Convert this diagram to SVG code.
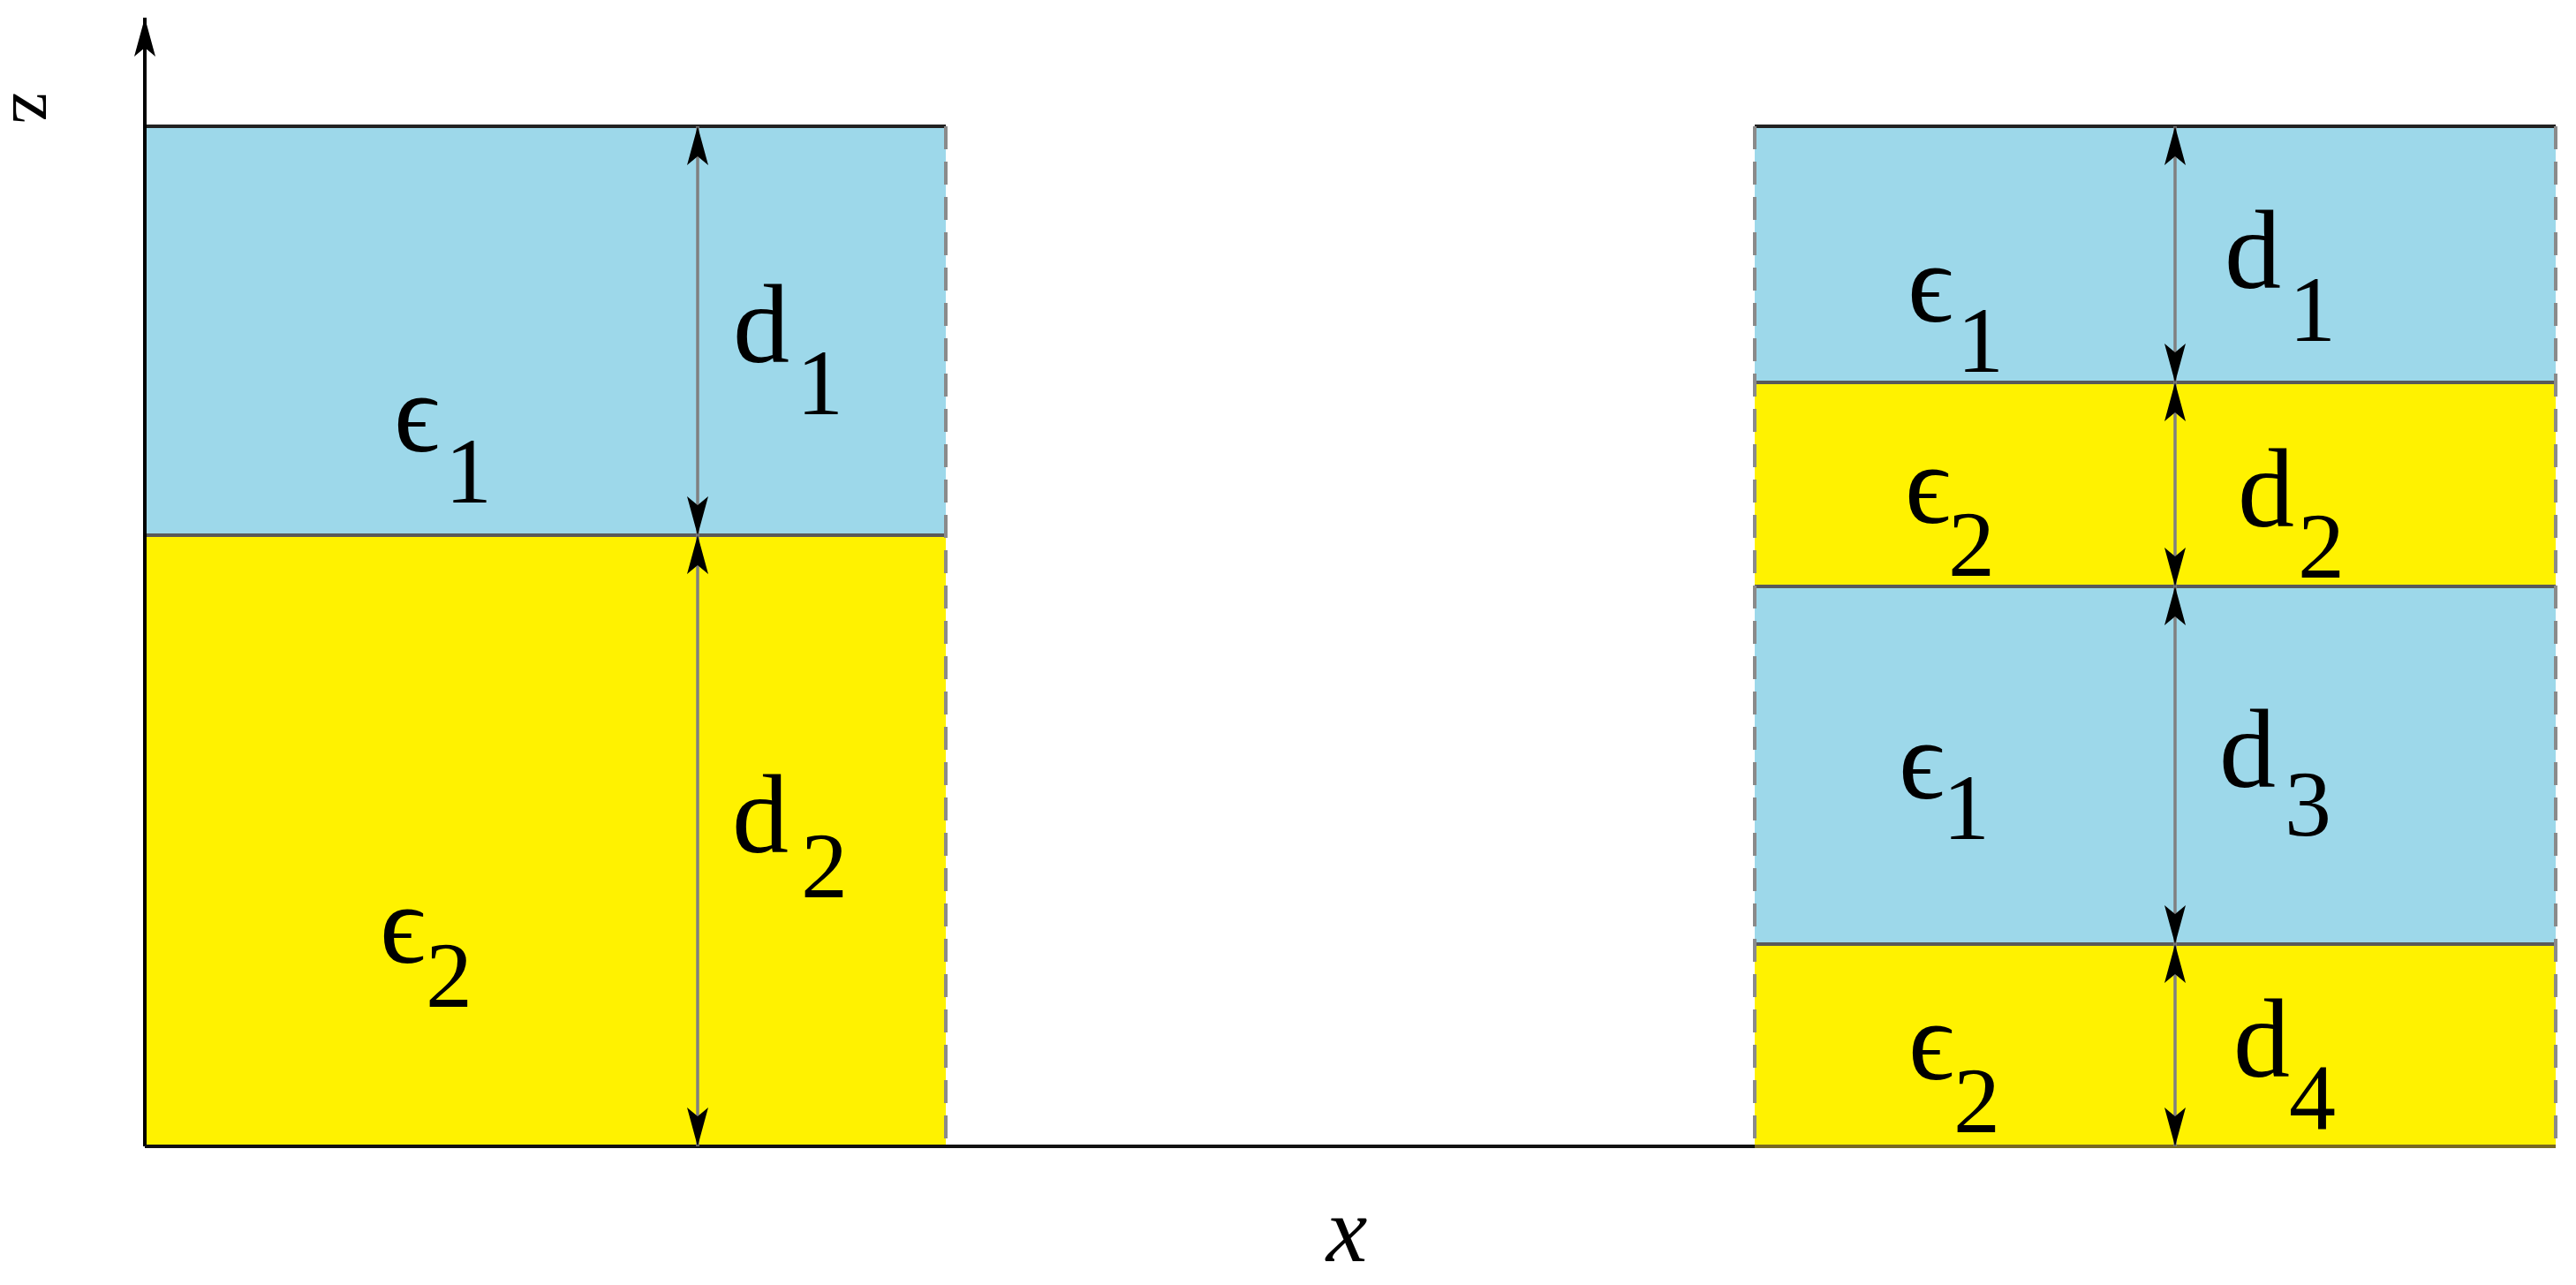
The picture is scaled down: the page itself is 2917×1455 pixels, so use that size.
<svg xmlns="http://www.w3.org/2000/svg" width="2917" height="1455" viewBox="0 0 2917 1455">
<style>
.b{fill:#9dd8ea}.y{fill:#fff200}
.if{stroke:#5a5a5a;stroke-width:4}
.ds{stroke:#8a8a8a;stroke-width:4;stroke-dasharray:26 14}
.dim{stroke:#808080;stroke-width:3.5}
text{font-family:"Liberation Serif","DejaVu Serif",serif;fill:#000}
.m{font-size:128px}.s{font-size:106px}
</style>
<defs>
<marker id="ah" viewBox="0 0 44 24" refX="44" refY="12" markerWidth="44" markerHeight="24" markerUnits="userSpaceOnUse" orient="auto-start-reverse">
<path d="M0,0 L44,12 L0,24 L10,12 Z" fill="#000"/>
</marker>
</defs>
<g id="left-stack">
<rect class="b" x="164" y="143" width="907" height="463"/>
<rect class="y" x="164" y="606" width="907" height="692"/>
<line x1="164" y1="143" x2="1071" y2="143" stroke="#222" stroke-width="4"/>
<line class="if" x1="164" y1="606" x2="1071" y2="606"/>
<line class="ds" x1="1071" y1="143" x2="1071" y2="1298"/>
<text class="m" x="446" y="511">ϵ</text><text class="s" x="504" y="569">1</text>
<text class="m" x="830" y="410">d</text><text class="s" x="902" y="469">1</text>
<text class="m" x="430" y="1090">ϵ</text><text class="s" x="482" y="1140">2</text>
<text class="m" x="829" y="965">d</text><text class="s" x="907" y="1016">2</text>
</g>
<g id="right-stack">
<rect class="b" x="1987" y="143" width="907" height="290"/>
<rect class="y" x="1987" y="433" width="907" height="231"/>
<rect class="b" x="1987" y="664" width="907" height="405"/>
<rect class="y" x="1987" y="1069" width="907" height="229"/>
<line x1="1987" y1="143" x2="2894" y2="143" stroke="#222" stroke-width="4"/>
<line class="if" x1="1987" y1="433" x2="2894" y2="433"/>
<line class="if" x1="1987" y1="664" x2="2894" y2="664"/>
<line class="if" x1="1987" y1="1069" x2="2894" y2="1069"/>
<line x1="1987" y1="1298" x2="2894" y2="1298" stroke="#7a6a20" stroke-width="4"/>
<line class="ds" x1="1987" y1="143" x2="1987" y2="1298"/>
<line class="ds" x1="2894" y1="143" x2="2894" y2="1298"/>
<text class="m" x="2160" y="364">ϵ</text><text class="s" x="2216" y="421">1</text>
<text class="m" x="2519" y="326">d</text><text class="s" x="2592" y="386">1</text>
<text class="m" x="2157" y="592">ϵ</text><text class="s" x="2206" y="652">2</text>
<text class="m" x="2534" y="596">d</text><text class="s" x="2602" y="654">2</text>
<text class="m" x="2150" y="904">ϵ</text><text class="s" x="2200" y="950">1</text>
<text class="m" x="2513" y="891">d</text><text class="s" x="2587" y="946">3</text>
<text class="m" x="2161" y="1222">ϵ</text><text class="s" x="2212" y="1282">2</text>
<text class="m" x="2529" y="1219">d</text><text class="s" x="2592" y="1278">4</text>
</g>
<g id="axes">
<line x1="164" y1="1298" x2="164" y2="20" stroke="#000" stroke-width="4" marker-end="url(#ah)"/>
<line x1="164" y1="1298" x2="1987" y2="1298" stroke="#111" stroke-width="4"/>
<text x="42" y="122" font-size="80" text-anchor="middle" dominant-baseline="central" transform="rotate(90 42 122)">z</text>
<text x="1525" y="1428" font-size="105" font-style="italic" text-anchor="middle">x</text>
</g>
<g id="connectors">
<line class="dim" x1="790" y1="143" x2="790" y2="606" marker-start="url(#ah)" marker-end="url(#ah)"/>
<line class="dim" x1="790" y1="606" x2="790" y2="1298" marker-start="url(#ah)" marker-end="url(#ah)"/>
<line class="dim" x1="2463" y1="143" x2="2463" y2="433" marker-start="url(#ah)" marker-end="url(#ah)"/>
<line class="dim" x1="2463" y1="433" x2="2463" y2="664" marker-start="url(#ah)" marker-end="url(#ah)"/>
<line class="dim" x1="2463" y1="664" x2="2463" y2="1069" marker-start="url(#ah)" marker-end="url(#ah)"/>
<line class="dim" x1="2463" y1="1069" x2="2463" y2="1298" marker-start="url(#ah)" marker-end="url(#ah)"/>
</g>
</svg>
